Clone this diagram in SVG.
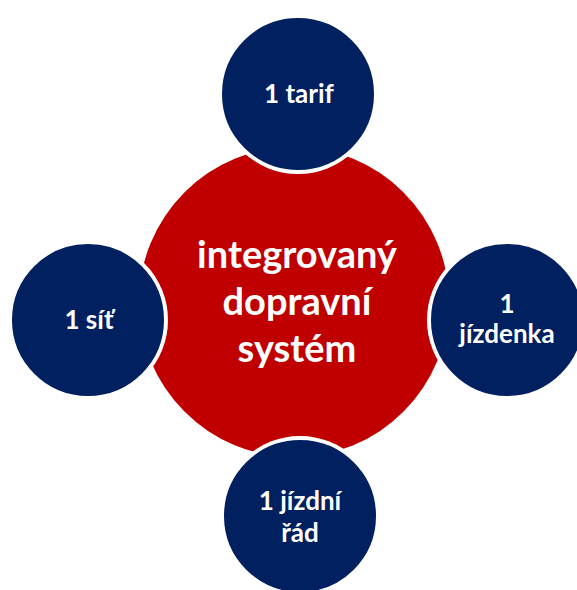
<svg xmlns="http://www.w3.org/2000/svg" width="577" height="590" viewBox="0 0 577 590">
<style>
.hub{fill:#C00000;}
.sat{fill:#002060;stroke:#FFFFFF;stroke-width:4;}
.t{font-family:Lato,"Open Sans","Liberation Sans",sans-serif;font-weight:bold;fill:#FFFFFF;text-anchor:middle;}
.big{font-size:38px;}
.small{font-size:26px;}
</style>
<rect width="577" height="590" fill="#FFFFFF"/>
<g id="connectors"></g>
<g id="hub">
<circle class="hub" cx="294" cy="302" r="155"/>
<text class="t big" x="297" y="268">integrovaný</text>
<text class="t big" x="297" y="315">dopravní</text>
<text class="t big" x="297" y="362">systém</text>
</g>
<g id="tarif">
<circle class="sat" cx="298" cy="94" r="78"/>
<text class="t small" x="299" y="103">1 tarif</text>
</g>
<g id="sit">
<circle class="sat" cx="88" cy="320" r="78"/>
<text class="t small" x="89" y="329">1 síť</text>
</g>
<g id="jizdenka">
<circle class="sat" cx="507" cy="320" r="78"/>
<text class="t small" x="507" y="313">1</text>
<text class="t small" x="507" y="343">jízdenka</text>
</g>
<g id="jizdni-rad">
<circle class="sat" cx="300" cy="516" r="78"/>
<text class="t small" x="300" y="510">1 jízdní</text>
<text class="t small" x="300" y="542">řád</text>
</g>
</svg>
